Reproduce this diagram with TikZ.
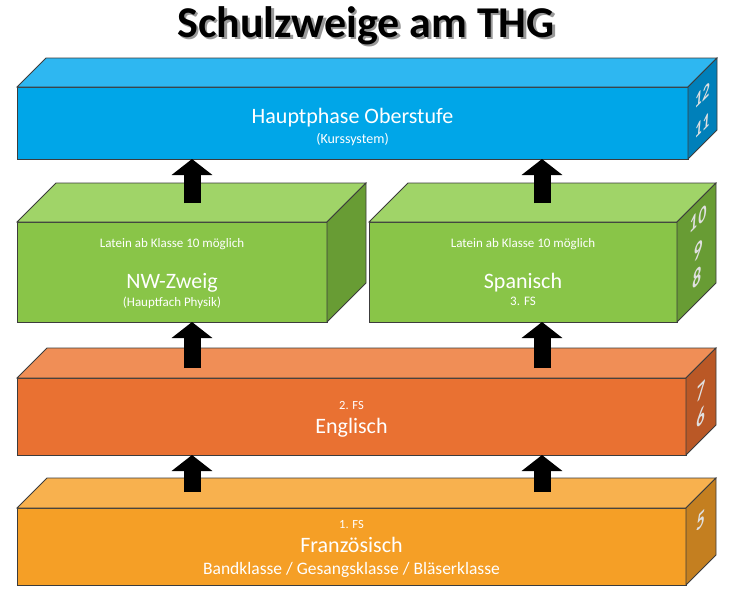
\documentclass[tikz,border=0pt]{standalone}
\usepackage{fontspec}
\setmainfont{Carlito}
\usetikzlibrary{arrows.meta, positioning}

\definecolor{kante}{RGB}{60,60,60}
\definecolor{blauV}{RGB}{0,166,232}
\definecolor{blauO}{RGB}{46,183,241}
\definecolor{blauS}{RGB}{0,128,186}
\definecolor{gruenV}{RGB}{137,197,72}
\definecolor{gruenO}{RGB}{160,212,104}
\definecolor{gruenS}{RGB}{104,156,52}
\definecolor{rotV}{RGB}{233,113,50}
\definecolor{rotO}{RGB}{240,142,86}
\definecolor{rotS}{RGB}{186,88,38}
\definecolor{gelbV}{RGB}{245,159,38}
\definecolor{gelbO}{RGB}{248,177,78}
\definecolor{gelbS}{RGB}{196,127,32}

\newcommand{\schrift}[1]{\fontsize{#1}{#1}\selectfont}
% top and side face of a box: node, depth, top colour, side colour
\newcommand{\quader}[4]{%
  \filldraw[draw=kante, line width=0.8pt, fill=#3] (#1.north west) -- ++(#2,-#2)
    -- ([shift={(#2,-#2)}]#1.north east) -- (#1.north east) -- cycle;
  \filldraw[draw=kante, line width=0.8pt, fill=#4] (#1.north east) -- ++(#2,-#2)
    -- ([shift={(#2,-#2)}]#1.south east) -- (#1.south east) -- cycle;}

\begin{document}
\begin{tikzpicture}[x=1pt, y=-1pt,
  vorne/.style={draw=kante, line width=0.8pt, inner sep=0pt, outer sep=0pt},
  txt/.style={text=white, anchor=base},
  zahl/.style={text=white!88!black, font=\bfseries\itshape\schrift{#1}, inner sep=0pt, yslant=1, xscale=0.72},
  zahl/.default=23,
  pfeil/.style={line width=17pt, -{Triangle[width=40pt, length=16pt]}}]
  \fill[white] (0,0) rectangle (730,600);
  \useasboundingbox (0,0) rectangle (730,600);

  % title
  \node[anchor=base, text=black!40, font=\bfseries\schrift{44}] (schatten) at (368.5,39.5) {Schulzweige am THG};
  \node[anchor=base, font=\bfseries\schrift{44}] (titel) at (366,37) {Schulzweige am THG};

  % front faces
  \node[vorne, fill=blauV, minimum width=671pt, minimum height=72pt] (ober) at (352.5,123) {};
  \node[vorne, fill=gruenV, minimum width=310pt, minimum height=100pt] (nw) at (172,272) {};
  \node[vorne, fill=gruenV, minimum width=308pt, minimum height=100pt] (span) at (523,272) {};
  \node[vorne, fill=rotV, minimum width=669pt, minimum height=77pt] (engl) at (351.5,416.5) {};
  \node[vorne, fill=gelbV, minimum width=669pt, minimum height=77pt] (franz) at (351.5,546.5) {};

  \quader{ober}{29}{blauO}{blauS}
  \quader{nw}{39}{gruenO}{gruenS}
  \quader{span}{39}{gruenO}{gruenS}
  \quader{engl}{30}{rotO}{rotS}
  \quader{franz}{30}{gelbO}{gelbS}

  % texts
  \node[txt, font=\schrift{22}] (t1) at (352.5,123) {Hauptphase Oberstufe};
  \node[txt, font=\schrift{14}] (t2) at (352.5,143) {(Kurssystem)};
  \node[txt, font=\schrift{13}] (t3) at (172,247) {Latein ab Klasse 10 möglich};
  \node[txt, font=\schrift{22}] (t4) at (172,288) {NW-Zweig};
  \node[txt, font=\schrift{13}] (t5) at (172,306) {(Hauptfach Physik)};
  \node[txt, font=\schrift{13}] (t6) at (523,247) {Latein ab Klasse 10 möglich};
  \node[txt, font=\schrift{22}] (t7) at (523,288) {Spanisch};
  \node[txt, font=\schrift{13}] (t8) at (523,305) {3. FS};
  \node[txt, font=\schrift{12.5}] (t9) at (351.5,409) {2. FS};
  \node[txt, font=\schrift{22}] (t10) at (351.5,433) {Englisch};
  \node[txt, font=\schrift{12.5}] (t11) at (351.5,528) {1. FS};
  \node[txt, font=\schrift{22}] (t12) at (351.5,552) {Französisch};
  \node[txt, font=\schrift{17.5}] (t13) at (351.5,574) {Bandklasse / Gesangsklasse / Bläserklasse};

  % grades on the side faces
  \node[zahl=20] (k12) at (702,96) {12};
  \node[zahl=20] (k11) at (702,126) {11};
  \node[zahl=22] (k10) at (698,219) {10};
  \node[zahl=24] (k9) at (698,251) {9};
  \node[zahl=24] (k8) at (697,278) {8};
  \node[zahl] (k7) at (701,392) {7};
  \node[zahl] (k6) at (701,418) {6};
  \node[zahl] (k5) at (701,521) {5};

  % arrows
  \coordinate (a1) at (192,203);
  \coordinate (a2) at (542,203);
  \coordinate (a3) at (192,368);
  \coordinate (a4) at (542,368);
  \coordinate (a5) at (192,492);
  \coordinate (a6) at (542,492);
  \draw[pfeil] (a1) -- (a1 |- ober.south);
  \draw[pfeil] (a2) -- (a2 |- ober.south);
  \draw[pfeil] (a3) -- (a3 |- nw.south);
  \draw[pfeil] (a4) -- (a4 |- span.south);
  \draw[pfeil] (a5) -- (a5 |- engl.south);
  \draw[pfeil] (a6) -- (a6 |- engl.south);
\end{tikzpicture}
\end{document}
